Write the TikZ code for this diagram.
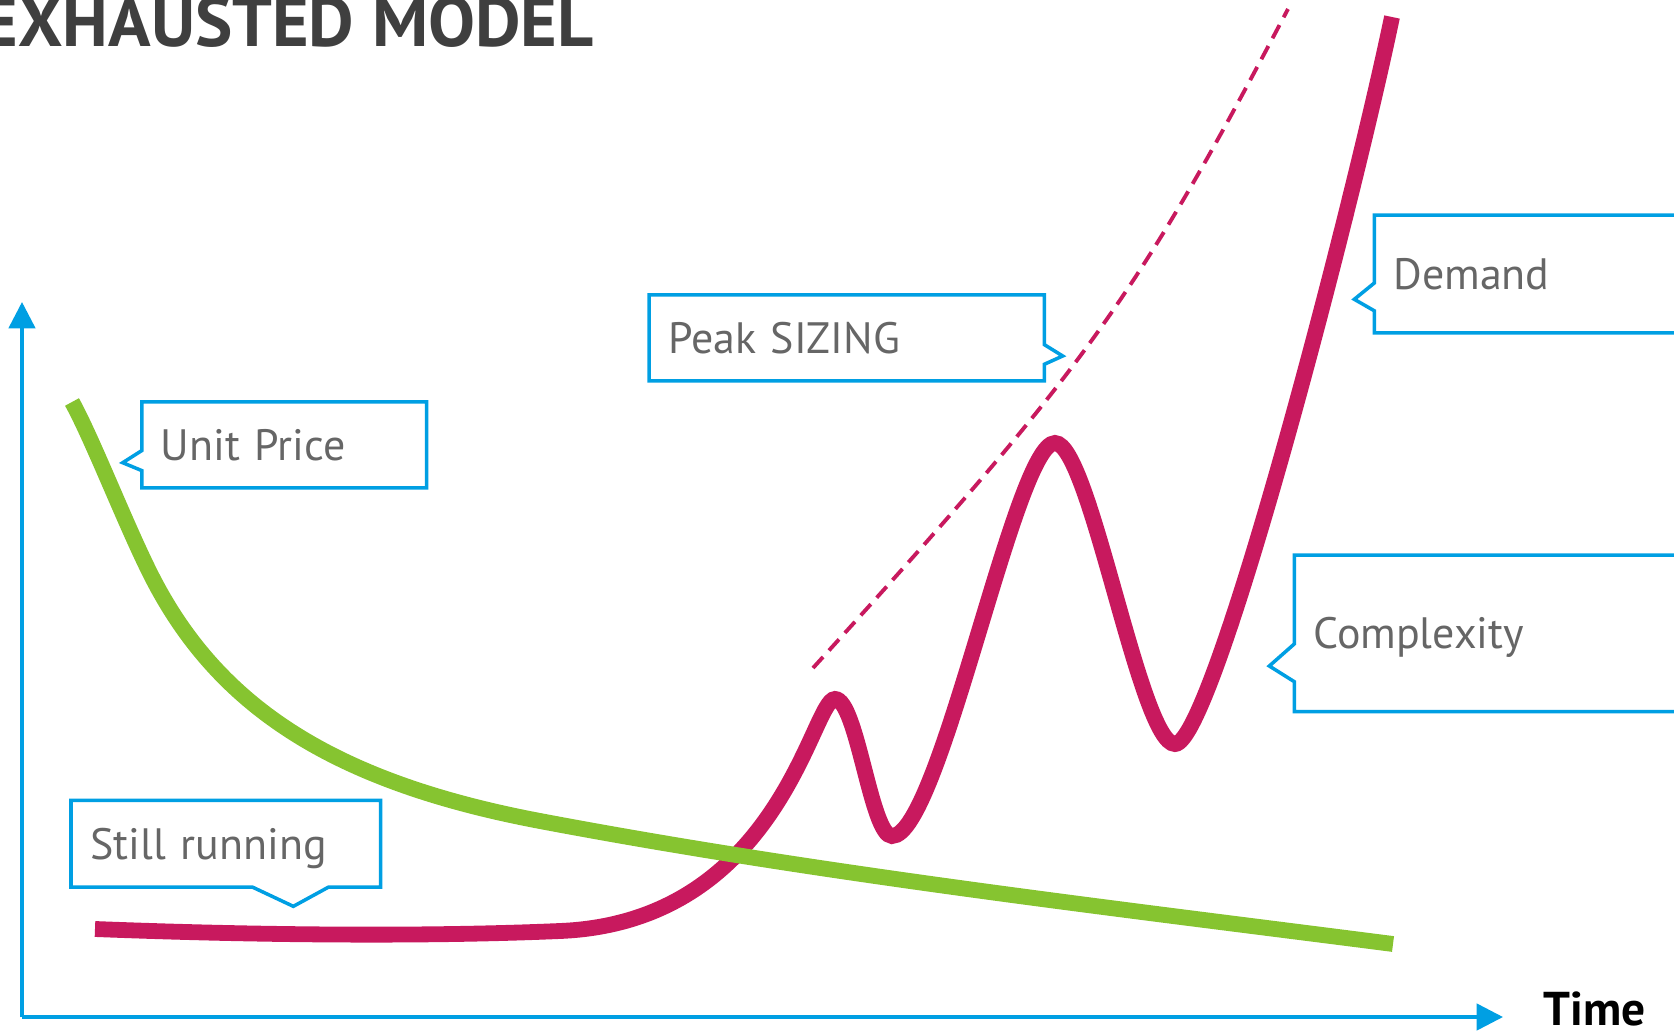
\documentclass[tikz,border=0pt]{standalone}
\usepackage{fontspec}
\setmainfont{PT Sans}
\usetikzlibrary{arrows.meta, shapes.callouts}
\definecolor{axisblue}{HTML}{009FE3}
\definecolor{pricegreen}{HTML}{86C430}
\definecolor{demandred}{HTML}{C8195E}
\definecolor{labelgray}{HTML}{666666}
\definecolor{titlegray}{HTML}{3F3F3F}
\tikzstyle{tag_text} = [text=labelgray, font=\fontsize{25}{30}\selectfont, minimum height=1.72cm, text height=0.62cm, text depth=0pt, inner xsep=0.38cm, align=left, anchor=west]
\tikzstyle{tag_box} = [tag_text, rectangle callout, draw=axisblue, line width=2pt, fill=white]
\tikzstyle{tag_line} = [draw=axisblue, line width=2pt, line join=miter]
\tikzstyle{axis_arrow} = [draw=axisblue, line width=2pt, -{Triangle[length=15pt, width=15pt]}]
\tikzstyle{trend_line} = [line width=9pt]
\tikzstyle{peak_line} = [draw=demandred, line width=2.2pt, dash pattern=on 8.5pt off 5pt]

\begin{document}
\begin{tikzpicture}[x=0.02cm, y=-0.02cm]
\useasboundingbox (0,0) rectangle (1674,1034);

\node (title) [anchor=base east, text=titlegray, font=\fontsize{40}{48}\selectfont\bfseries] at (600,47) {EXHAUSTED MODEL};

\coordinate (origin) at (22,1017);
\coordinate (y_end) at (22,302);
\coordinate (x_end) at (1503,1017);
\draw [axis_arrow] (origin) -- (y_end);
\draw [axis_arrow] (origin) -- (x_end);
\node (time_label) [anchor=base west, inner sep=0pt, font=\fontsize{27}{32}\selectfont\bfseries] at (1543,1025) {Time};

% sizing trend
\draw [peak_line] (813,668) .. controls (1087,367) and (1134,301) .. (1288,9);

% demand / complexity
\draw [trend_line, draw=demandred] (95,929) .. controls (250,935) and (420,937) .. (560,931)
  .. controls (780,922) and (812,699) .. (835,699)
  .. controls (857,699) and (871,836) .. (892,836)
  .. controls (940,836) and (1015,443) .. (1055,443)
  .. controls (1090,443) and (1140,744) .. (1175,744)
  .. controls (1213,744) and (1352,209) .. (1392,17);

% unit price
\draw [trend_line, draw=pricegreen] (72,402) .. controls (92,438) and (125,523) .. (150,573)
  .. controls (217,707) and (334,782) .. (540,821)
  .. controls (820,874) and (1113,908) .. (1393,944);

\node (price_tag) [tag_box, text width=4.94cm, callout absolute pointer={(122.7,462.7)}, callout pointer width=0.4cm] at (140,444.9) {Unit Price};
\node (sizing_tag) [tag_box, text width=7.15cm, callout absolute pointer={(1062.7,356)}, callout pointer width=0.39cm] at (647.3,337.9) {Peak SIZING};
\node (demand_tag) [tag_box, text width=7cm, minimum height=2.36cm, callout absolute pointer={(1354.3,299.3)}, callout pointer width=0.56cm] at (1372.7,274) {Demand};
\node (complexity_tag) [tag_box, text width=8.6cm, minimum height=3.13cm, callout absolute pointer={(1269.3,666)}, callout pointer width=0.76cm] at (1292.7,633.3) {Complexity};

\node (running_tag) [tag_text, text width=5.42cm] at (71,843.7) {Still running};
\draw [tag_line] (running_tag.south west) -- (running_tag.north west) -- (running_tag.north east) -- (running_tag.south east)
  -- +(-52,0) -- +(-87.3,19.3) -- +(-128.3,0) -- cycle;
\end{tikzpicture}
\end{document}
